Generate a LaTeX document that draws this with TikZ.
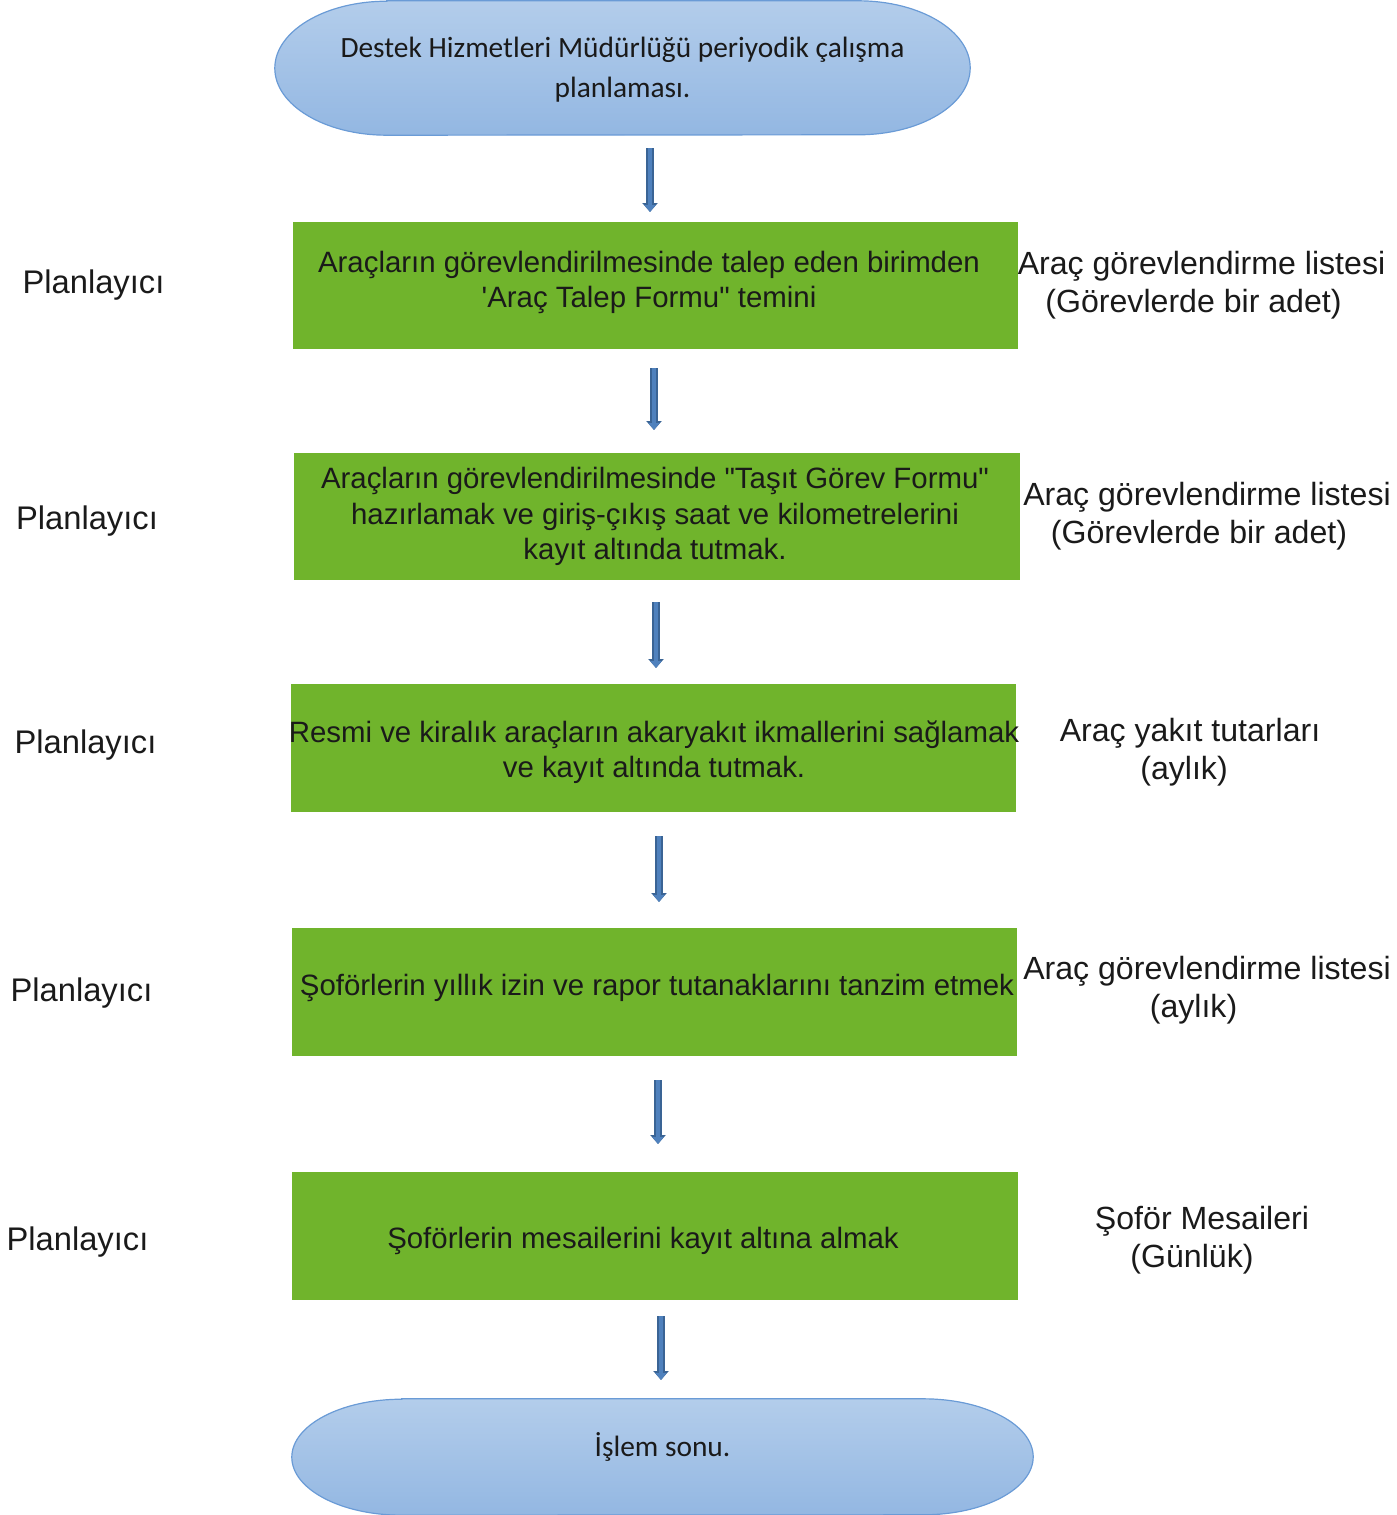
\documentclass[tikz,border=0pt]{standalone}
\usepackage{fontspec}
\setmainfont{Liberation Sans}[Ligatures=TeXOff]
\newfontfamily\calib{Carlito}
\usetikzlibrary{arrows.meta}
\definecolor{boxgreen}{HTML}{70B42C}
\definecolor{elltop}{HTML}{B3CDEB}
\definecolor{ellbot}{HTML}{93B7E2}
\definecolor{ellline}{HTML}{6A9BD6}
\definecolor{arrfill}{HTML}{4F81BD}
\definecolor{arrline}{HTML}{3A6495}
\definecolor{txt}{HTML}{1A1A1A}
\tikzset{
  termbox/.style={rectangle, inner sep=0pt},
  termfill/.style={draw=ellline, line width=1.2pt, top color=elltop, bottom color=ellbot},
  termtext/.style={text=txt, align=center, font=\calib\fontsize{29.4}{40}\selectfont, inner sep=0pt},
  stepbox/.style={rectangle, fill=boxgreen, inner sep=0pt},
  steptext/.style={text=txt, align=center, inner sep=0pt, font=\fontsize{29.4}{35.5}\selectfont},
  rolelabel/.style={text=txt, font=\fontsize{32.7}{38}\selectfont, inner sep=0pt},
  doclabel/.style={text=txt, align=center, font=\fontsize{32.1}{38}\selectfont, inner sep=0pt},
  barrow/.style={line width=4.5pt, draw=arrfill, -{Triangle[width=11pt,length=7pt]},
     preaction={draw=arrline, line width=8pt, -{Triangle[width=15pt,length=9pt]}}}
}
\begin{document}
\begin{tikzpicture}[x=1pt,y=-1pt]
\useasboundingbox (0,0) rectangle (1397,1515);
% terminals
\node[termbox, minimum width=695pt, minimum height=134pt] (start) at (622.5,68) {};
\path[termfill] ([xshift=112pt]start.north west) -- ([xshift=-112pt]start.north east)
  arc[start angle=-90, end angle=90, x radius=112, y radius=67]
  -- ([xshift=112pt]start.south west)
  arc[start angle=90, end angle=270, x radius=112, y radius=67] -- cycle;
\node[termtext] (starttext) at ([yshift=-1.5pt]start.center)
  {Destek Hizmetleri Müdürlüğü periyodik çalışma\\planlaması.};
\node[termbox, minimum width=741pt, minimum height=116pt] (end) at (662.5,1457) {};
\path[termfill] ([xshift=110pt]end.north west) -- ([xshift=-110pt]end.north east)
  arc[start angle=-90, end angle=90, x radius=110, y radius=58]
  -- ([xshift=110pt]end.south west)
  arc[start angle=90, end angle=270, x radius=110, y radius=58] -- cycle;
\node[termtext] (endtext) at ([yshift=10pt]end.center) {İşlem sonu.};
% steps
\node[stepbox, minimum width=725pt, minimum height=127pt] (s1) at (655.5,285.5) {};
\node[steptext] (t1) at (649,282.5)
  {Araçların görevlendirilmesinde talep eden birimden\\'Araç Talep Formu" temini};
\node[stepbox, minimum width=726pt, minimum height=127pt] (s2) at (657,516.5) {};
\node[steptext] (t2) at (655,516.5)
  {Araçların görevlendirilmesinde "Taşıt Görev Formu"\\hazırlamak ve giriş-çıkış saat ve kilometrelerini\\kayıt altında tutmak.};
\node[stepbox, minimum width=725pt, minimum height=128pt] (s3) at (653.5,748) {};
\node[steptext] (t3) at (654,752)
  {Resmi ve kiralık araçların akaryakıt ikmallerini sağlamak\\ve kayıt altında tutmak.};
\node[stepbox, minimum width=725pt, minimum height=128pt] (s4) at (654.5,992) {};
\node[steptext] (t4) at (657,988)
  {Şoförlerin yıllık izin ve rapor tutanaklarını tanzim etmek};
\node[stepbox, minimum width=726pt, minimum height=128pt] (s5) at (655,1236) {};
\node[steptext] (t5) at (643,1241)
  {Şoförlerin mesailerini kayıt altına almak};
% role labels
\node[rolelabel] (r1) at (93.5,285) {Planlayıcı};
\node[rolelabel] (r2) at (87,521) {Planlayıcı};
\node[rolelabel] (r3) at (85.5,745) {Planlayıcı};
\node[rolelabel] (r4) at (81.5,993) {Planlayıcı};
\node[rolelabel] (r5) at (77.5,1242) {Planlayıcı};
% document labels
\node[doclabel] (d1) at (1201.5,285) {Araç görevlendirme listesi\\(Görevlerde bir adet)\hspace*{16pt}};
\node[doclabel] (d2) at (1207,516) {Araç görevlendirme listesi\\(Görevlerde bir adet)\hspace*{16pt}};
\node[doclabel] (d3) at (1190,752) {Araç yakıt tutarları\\(aylık)\hspace*{12pt}};
\node[doclabel] (d4) at (1207,990) {Araç görevlendirme listesi\\(aylık)\hspace*{27pt}};
\node[doclabel] (d5) at (1202,1240) {Şoför Mesaileri\\(Günlük)\hspace*{20pt}};
% arrow endpoints
\coordinate (a1s) at (650,148); \coordinate (a1e) at (650,212);
\coordinate (a2s) at (654,368); \coordinate (a2e) at (654,430);
\coordinate (a3s) at (656,602); \coordinate (a3e) at (656,668);
\coordinate (a4s) at (659,836); \coordinate (a4e) at (659,902);
\coordinate (a5s) at (658,1080); \coordinate (a5e) at (658,1144);
\coordinate (a6s) at (661,1316); \coordinate (a6e) at (661,1380);
\draw[barrow] (a1s) -- (a1e);
\draw[barrow] (a2s) -- (a2e);
\draw[barrow] (a3s) -- (a3e);
\draw[barrow] (a4s) -- (a4e);
\draw[barrow] (a5s) -- (a5e);
\draw[barrow] (a6s) -- (a6e);
\end{tikzpicture}
\end{document}
